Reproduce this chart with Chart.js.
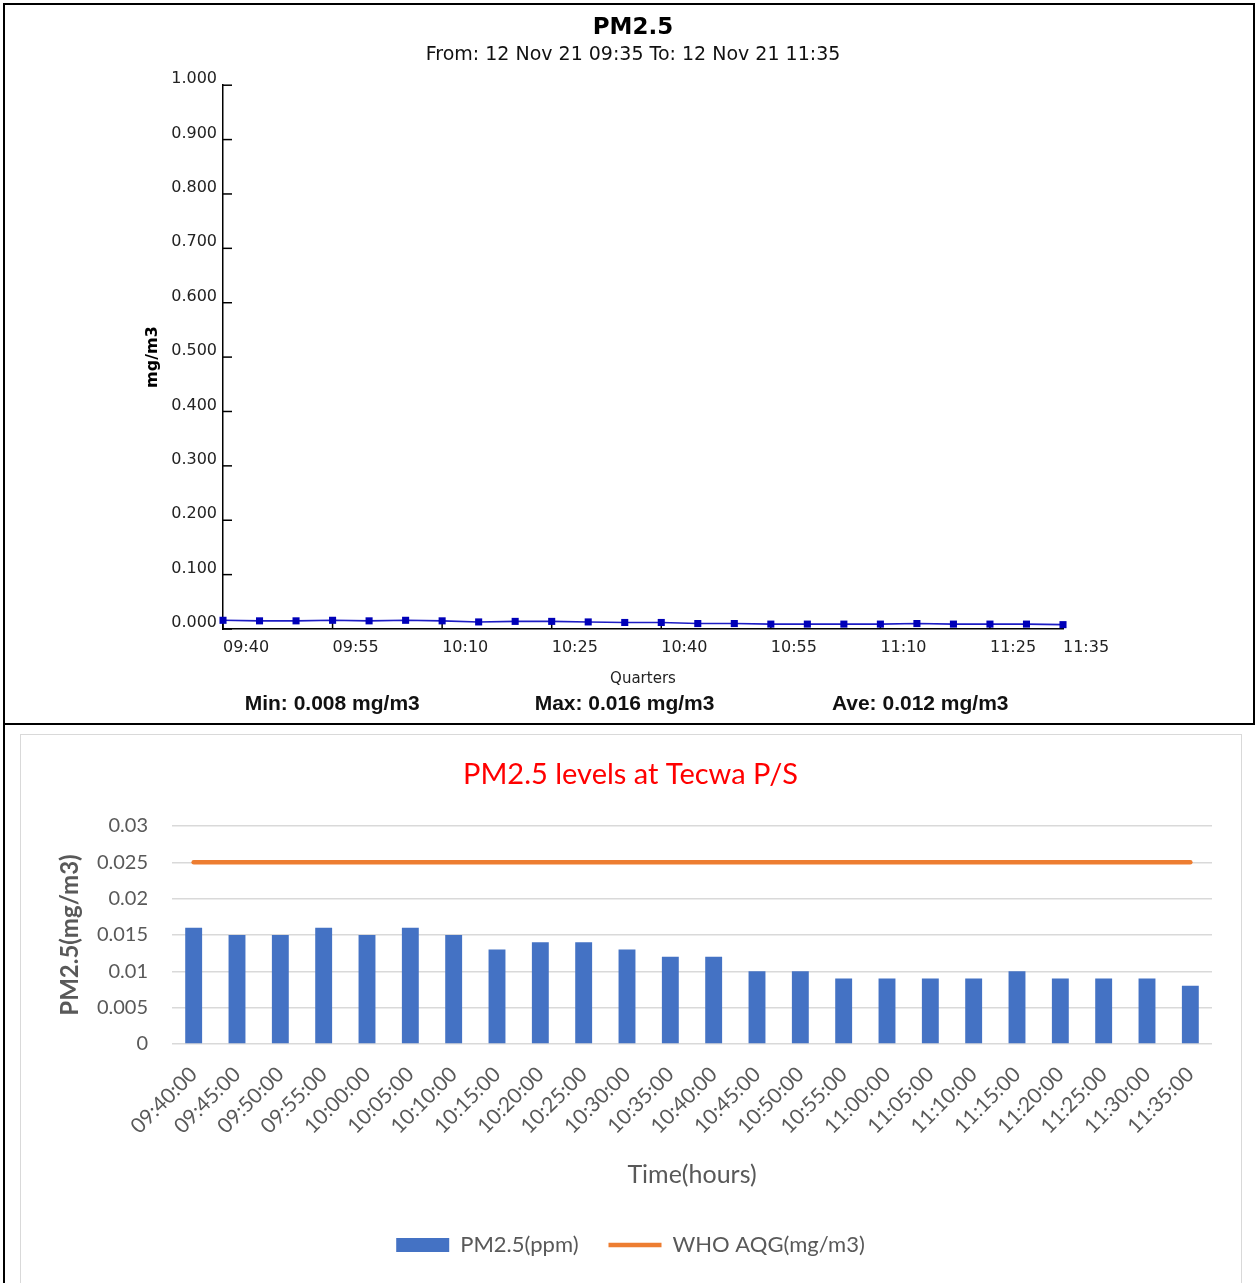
<!DOCTYPE html>
<html><head><meta charset="utf-8">
<script src="https://cdn.jsdelivr.net/npm/chart.js@4.4.0/dist/chart.umd.min.js"></script>
<style>
html,body{margin:0;padding:0;background:#fff;}
body{width:1255px;height:1283px;position:relative;overflow:hidden;}
.abs{position:absolute;box-sizing:border-box;}
#topWrap{left:0;top:0;width:1255px;height:724px;}
#botWrap{left:20px;top:734px;width:1221px;height:549px;}
#topFrame{left:3px;top:3px;width:1252px;height:722px;border:2px solid #000;}
#leftLine{left:3px;top:724px;width:2px;height:560px;background:#000;}
#grayBox{left:20px;top:734px;width:1222px;height:570px;border:1.5px solid #d9d9d9;}
</style>
</head><body>
<div id="topWrap" class="abs"><canvas id="topChart"></canvas></div>
<div id="botWrap" class="abs"><canvas id="botChart"></canvas></div>
<div id="topFrame" class="abs"></div>
<div id="leftLine" class="abs"></div>
<div id="grayBox" class="abs"></div>
<script>
// ---- data ----
const times = ['09:40:00','09:45:00','09:50:00','09:55:00','10:00:00','10:05:00','10:10:00','10:15:00',
  '10:20:00','10:25:00','10:30:00','10:35:00','10:40:00','10:45:00','10:50:00','10:55:00',
  '11:00:00','11:05:00','11:10:00','11:15:00','11:20:00','11:25:00','11:30:00','11:35:00'];
const pm25 = [0.016,0.015,0.015,0.016,0.015,0.016,0.015,0.013,0.014,0.014,0.013,0.012,
  0.012,0.010,0.010,0.009,0.009,0.009,0.009,0.010,0.009,0.009,0.009,0.008];
const whoAqg = [0.025,0.025,0.025,0.025,0.025,0.025,0.025,0.025,0.025,0.025,0.025,0.025,
  0.025,0.025,0.025,0.025,0.025,0.025,0.025,0.025,0.025,0.025,0.025,0.025];
const topXTicks = ['09:40','09:55','10:10','10:25','10:40','10:55','11:10','11:25','11:35'];
const topYTicks = ['0.000','0.100','0.200','0.300','0.400','0.500','0.600','0.700','0.800','0.900','1.000'];
const botYTicks = ['0','0.005','0.01','0.015','0.02','0.025','0.03'];
const stats = ['Min: 0.008 mg/m3','Max: 0.016 mg/m3','Ave: 0.012 mg/m3'];
const statPos = [0.13, 0.478, 0.83];

Chart.defaults.animation = false;
Chart.defaults.devicePixelRatio = 1;

const shortTime = i => times[i].slice(0,5);
const topShown = i => topXTicks.includes(shortTime(i));

const inwardTicks = {
  id: 'inwardTicks',
  beforeDatasetsDraw(chart) {
    const {ctx, scales: {x, y}, chartArea: a} = chart;
    ctx.save();
    ctx.strokeStyle = '#000'; ctx.lineWidth = 1.5;
    y.ticks.forEach((t, i) => {
      const py = y.getPixelForTick(i);
      ctx.beginPath(); ctx.moveTo(a.left, py); ctx.lineTo(a.left + 9, py); ctx.stroke();
    });
    x.ticks.forEach((t, i) => {
      if (!topShown(i)) return;
      const px = x.getPixelForTick(i);
      ctx.beginPath(); ctx.moveTo(px, a.bottom); ctx.lineTo(px, a.bottom - 7); ctx.stroke();
    });
    ctx.restore();
  }
};
const statsText = {
  id: 'statsText',
  afterDraw(chart) {
    const {ctx, chartArea: a} = chart;
    ctx.save();
    ctx.font = 'bold 21px "Liberation Sans", Arial, sans-serif';
    ctx.fillStyle = '#111'; ctx.textAlign = 'center'; ctx.textBaseline = 'middle';
    stats.forEach((s, i) => ctx.fillText(s, a.left + statPos[i] * (a.right - a.left), a.bottom + 75));
    ctx.restore();
  }
};
const spacerAxis = w => ({position: 'right', display: true, afterFit: s => { s.width = w; },
  grid: {display: false}, border: {display: false}, ticks: {display: false}});

new Chart(document.getElementById('topChart'), {
  type: 'line',
  data: {
    labels: times,
    datasets: [{
      label: 'PM2.5',
      data: pm25,
      yAxisID: 'y',
      borderColor: '#1c1cc4',
      borderWidth: 1.6,
      pointStyle: 'rect',
      pointRadius: 5,
      pointBorderWidth: 0,
      pointBackgroundColor: '#0000b8',
      tension: 0,
      clip: false
    }]
  },
  options: {
    responsive: true, maintainAspectRatio: false,
    layout: {padding: {left: 140, right: 129, top: 0, bottom: 30}},
    plugins: {
      legend: {display: false},
      tooltip: {enabled: false},
      title: {display: true, text: 'PM2.5', color: '#000',
        font: {family: '"DejaVu Sans", sans-serif', size: 23, weight: 'bold'},
        padding: {top: 14, bottom: 2}},
      subtitle: {display: true, text: 'From: 12 Nov 21 09:35 To: 12 Nov 21 11:35', color: '#111',
        font: {family: '"DejaVu Sans", sans-serif', size: 19},
        padding: {top: 0, bottom: 18.8}}
    },
    scales: {
      x: {
        offset: false,
        afterFit: s => { s.height = 65; },
        grid: {drawOnChartArea: false, drawTicks: false},
        border: {display: true, color: '#000', width: 1.5},
        ticks: {autoSkip: false, maxRotation: 0, minRotation: 0, align: 'start', padding: 9,
          color: '#222', font: {family: '"DejaVu Sans", sans-serif', size: 16},
          callback: (v, i) => topShown(i) ? shortTime(i) : ''},
        title: {display: true, text: 'Quarters', color: '#222',
          font: {family: '"DejaVu Sans", sans-serif', size: 15}, padding: {top: 0, bottom: 6}}
      },
      y: {
        min: 0, max: 1,
        afterFit: s => { s.width = 83; },
        grid: {drawOnChartArea: false, drawTicks: false},
        border: {display: true, color: '#000', width: 1.5},
        ticks: {stepSize: 0.1, padding: 6, labelOffset: -6, color: '#222',
          font: {family: '"DejaVu Sans", sans-serif', size: 16},
          callback: (v, i) => topYTicks[i]},
        title: {display: true, text: 'mg/m3', color: '#000',
          font: {family: '"DejaVu Sans", sans-serif', size: 16, weight: 'bold'}, padding: {top: 3, bottom: 0}}
      },
      yPad: spacerAxis(63)
    }
  },
  plugins: [inwardTicks, statsText]
});

const latoFam = 'Lato, "Open Sans", sans-serif';
new Chart(document.getElementById('botChart'), {
  data: {
    labels: times,
    datasets: [
      {type: 'bar', label: 'PM2.5(ppm)', data: pm25, yAxisID: 'y', backgroundColor: '#4472C4',
        barPercentage: 0.39, categoryPercentage: 1.0, pointStyle: 'rect'},
      {type: 'line', label: 'WHO AQG(mg/m3)', data: whoAqg, yAxisID: 'y', borderColor: '#ED7D31',
        backgroundColor: '#ED7D31', borderWidth: 4.5, borderCapStyle: 'round',
        pointRadius: 0, pointStyle: 'line', tension: 0}
    ]
  },
  options: {
    responsive: true, maintainAspectRatio: false,
    layout: {padding: {left: 0, right: 0, top: 0, bottom: 17}},
    plugins: {
      tooltip: {enabled: false},
      title: {display: true, text: 'PM2.5 levels at Tecwa P/S', color: '#FF0000',
        font: {family: latoFam, size: 29, weight: 'normal'},
        padding: {top: 23.6, bottom: 33.6}},
      legend: {position: 'bottom',
        labels: {usePointStyle: true, pointStyleWidth: 53, boxHeight: 14, padding: 30,
          color: '#595959', font: {family: latoFam, size: 22}}}
    },
    scales: {
      x: {
        afterFit: s => { s.height = 160; },
        grid: {display: false},
        border: {display: false},
        ticks: {autoSkip: false, minRotation: 45, maxRotation: 45, padding: 10,
          color: '#595959', font: {family: latoFam, size: 21}},
        title: {display: true, text: 'Time(hours)', color: '#595959',
          font: {family: latoFam, size: 25}, padding: {top: 0, bottom: 14}}
      },
      y: {
        min: 0, max: 0.03,
        afterFit: s => { s.width = 152; },
        grid: {color: '#d9d9d9', lineWidth: 1.5, drawTicks: false},
        border: {display: false},
        ticks: {stepSize: 0.005, padding: 24, color: '#595959',
          font: {family: latoFam, size: 20},
          callback: (v, i) => botYTicks[i]},
        title: {display: true, text: 'PM2.5(mg/m3)', color: '#595959',
          font: {family: latoFam, size: 24, weight: 'bold'}, padding: {top: 35.6, bottom: 0}}
      },
      yPad: spacerAxis(29)
    }
  }
});
</script>
</body></html>
